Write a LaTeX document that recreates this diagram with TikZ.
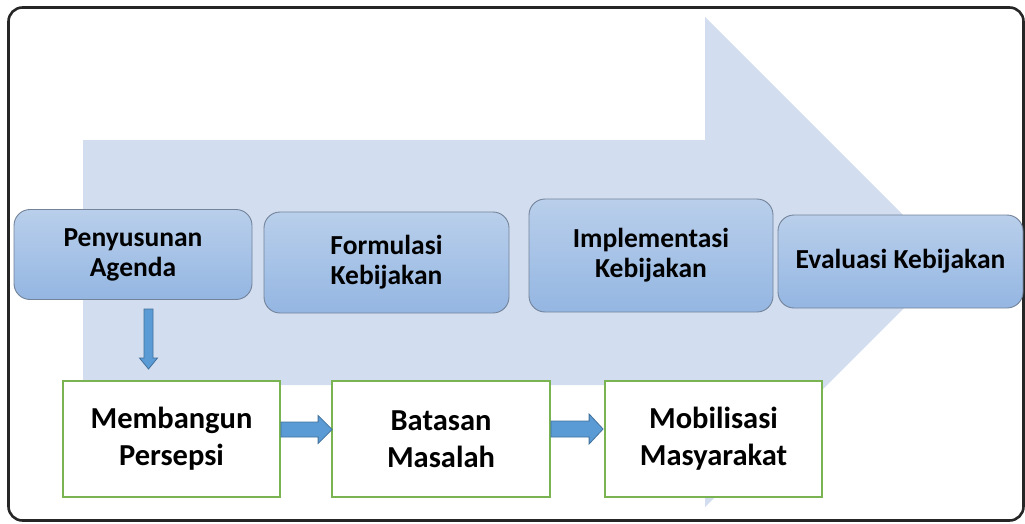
\documentclass[tikz,border=0pt]{standalone}
\usepackage{fontspec}
\setmainfont{Carlito}
\usetikzlibrary{calc}
\definecolor{bigarrow}{HTML}{D2DDEF}
\definecolor{boxtop}{HTML}{B9CFEB}
\definecolor{boxbot}{HTML}{94B6E2}
\definecolor{boxline}{HTML}{73839A}
\definecolor{greenline}{HTML}{7AB352}
\definecolor{arrowfill}{HTML}{5B9BD5}
\definecolor{arrowline}{HTML}{41719C}
\definecolor{frameline}{HTML}{262626}
\tikzset{
  phase/.style={draw=boxline, line width=0.9pt, rounded corners=16pt,
    top color=boxtop, bottom color=boxbot, align=center,
    font=\fontsize{27.5}{30}\selectfont\bfseries, inner sep=0pt},
  stepbox/.style={draw=greenline, line width=1.8pt, fill=white, align=center,
    font=\fontsize{30.5}{37}\selectfont\bfseries, inner sep=0pt},
  barrow/.style={fill=arrowfill, draw=arrowline, line width=0.8pt, line join=miter}
}
\begin{document}
\begin{tikzpicture}[x=1pt,y=-1pt]
\useasboundingbox (0,0) rectangle (1025,523);
% frame
\draw[frameline, line width=2.6pt, rounded corners=14pt] (8.5,7.5) rectangle (1023.5,520.5);
% big background arrow
\fill[bigarrow] (83,140) -- (705,140) -- (705,17) -- (950,262) -- (705,507) -- (705,385) -- (83,385) -- cycle;
% phases
\node[phase, minimum width=238pt, minimum height=90pt] (pa) at (133,254.5) {Penyusunan\\Agenda};
\node[phase, minimum width=245pt, minimum height=101pt] (fk) at (386.5,262.5) {Formulasi\\Kebijakan};
\node[phase, minimum width=244pt, minimum height=113pt] (ik) at (651,255.5) {Implementasi\\Kebijakan};
\node[phase, minimum width=245pt, minimum height=93pt] (ek) at (900.5,261.5) {Evaluasi Kebijakan};
% steps
\node[stepbox, minimum width=217pt, minimum height=116pt] (mp) at (171.5,439) {Membangun\\Persepsi};
\node[stepbox, minimum width=218pt, minimum height=116pt] (bm) at (441,439) {Batasan\\Masalah};
\node[stepbox, minimum width=217pt, minimum height=116pt] (mm) at (713.5,439) {Mobilisasi\\Masyarakat};
% arrow end points
\coordinate (d1) at (148.5,309);
\coordinate (d2) at (148.5,369);
\coordinate (r1) at ($(mp.east)+(0,-9.5)$);
\coordinate (r2) at ($(bm.west)+(1,-9.5)$);
\coordinate (r3) at ($(bm.east)+(0,-10)$);
\coordinate (r4) at ($(mm.west)+(-1,-10)$);
% down block arrow
\filldraw[barrow] let \p1=(d1), \p2=(d2) in
  (\x1-4.5pt,\y1) -- (\x1+4.5pt,\y1) -- (\x1+4.5pt,\y2+11pt) -- (\x1+9pt,\y2+11pt)
  -- (\x1,\y2) -- (\x1-9pt,\y2+11pt) -- (\x1-4.5pt,\y2+11pt) -- cycle;
% right block arrows
\filldraw[barrow] let \p1=(r1), \p2=(r2) in
  (\x1,\y1+7.5pt) -- (\x2-14pt,\y1+7.5pt) -- (\x2-14pt,\y1+14pt) -- (\x2,\y1)
  -- (\x2-14pt,\y1-14pt) -- (\x2-14pt,\y1-7.5pt) -- (\x1,\y1-7.5pt) -- cycle;
\filldraw[barrow] let \p1=(r3), \p2=(r4) in
  (\x1,\y1+8pt) -- (\x2-14pt,\y1+8pt) -- (\x2-14pt,\y1+15pt) -- (\x2,\y1)
  -- (\x2-14pt,\y1-15pt) -- (\x2-14pt,\y1-8pt) -- (\x1,\y1-8pt) -- cycle;
\end{tikzpicture}
\end{document}
